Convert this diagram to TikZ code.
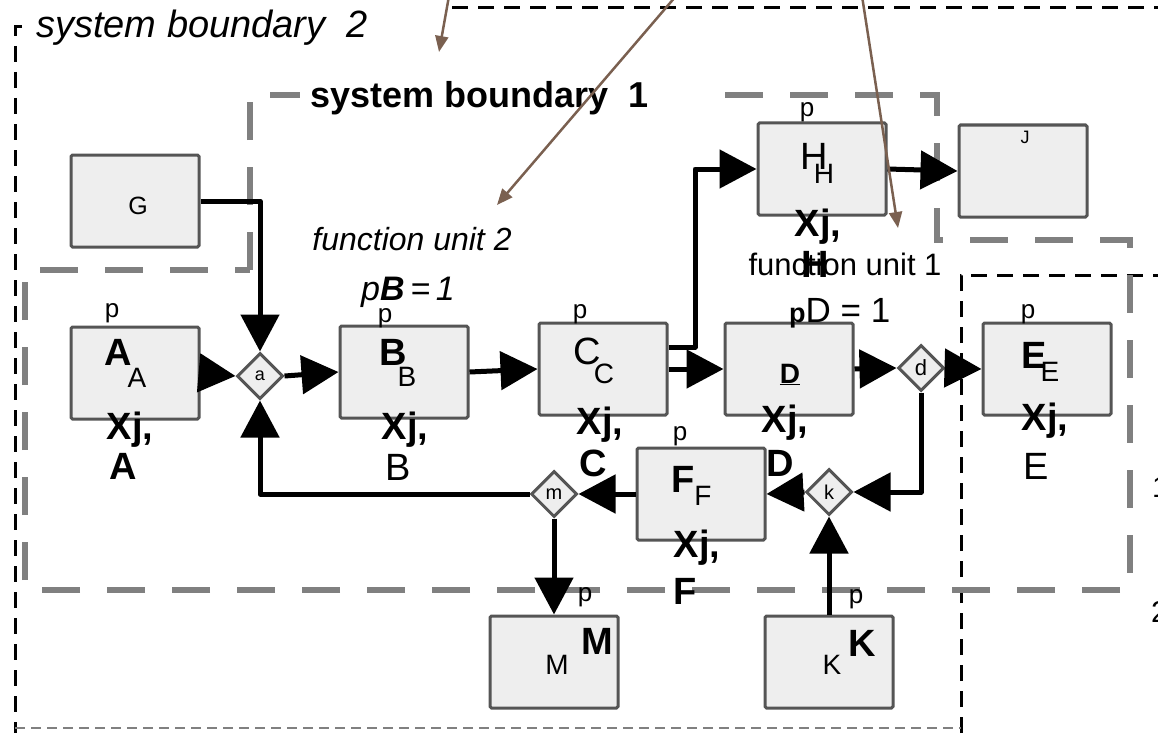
\documentclass[tikz,border=0pt]{standalone}
\usepackage{fontspec}
\setmainfont{Liberation Sans}
\usetikzlibrary{arrows.meta,shapes.geometric}
\definecolor{bxfill}{HTML}{EEEEEE}
\definecolor{bxdraw}{HTML}{555555}
\definecolor{sbgray}{HTML}{808080}
\definecolor{brownarr}{RGB}{122,96,80}
\newcommand\fsz[1]{\fontsize{#1}{#1}\selectfont}
\begin{document}
\begin{tikzpicture}[x=1pt,y=-1pt,
  box/.style={draw=bxdraw,fill=bxfill,line width=3pt,rounded corners=1.5pt,minimum width=128pt,minimum height=92pt,inner sep=0pt},
  dmd/.style={diamond,draw=bxdraw,fill=bxfill,line width=3pt,minimum size=46pt,inner sep=0pt,aspect=1},
  flow/.style={line width=5pt,line join=round,-{Triangle[length=37pt,width=38pt]}},
  note/.style={line width=2.5pt,draw=brownarr,-{Triangle[length=16pt,width=13pt]}},
  sbone/.style={draw=sbgray,line width=6pt,dash pattern=on 38pt off 27pt},
  sbtwo/.style={draw=black,line width=3pt,dash pattern=on 16pt off 10pt},
  sbbot/.style={draw=gray,line width=2pt,dash pattern=on 10pt off 6pt},
  txt/.style={inner sep=0pt,anchor=base},
  big/.style={txt,font=\fsz{38}\bfseries},
  bigr/.style={txt,font=\fsz{38}},
  sub/.style={txt,font=\fsz{28}},
  pp/.style={txt,font=\fsz{26}},
]
\useasboundingbox (0,0) rectangle (1158,733);
\begin{scope}
\clip (0,0) rectangle (1158,733);

% system boundary 2
\draw[sbtwo] (22,27) -- (15,27) -- (15,733);
\draw[sbtwo] (452,8) -- (1158,8);
\draw[sbtwo] (961,733) -- (961,275) -- (1158,275);
\draw[sbbot] (15,728) -- (961,728);
\node[txt,font=\fsz{38}\itshape,anchor=base west] (sb2) at (36,38) {system boundary\ \ 2};

% system boundary 1
\draw[sbone] (250,270) -- (250,95) -- (937,95) -- (937,240) -- (1130,240) -- (1130,590) -- (25,590) -- (25,270) -- cycle;
\node[fill=white,inner xsep=10pt,inner ysep=4pt,anchor=base west,font=\fsz{36}\bfseries] (sb1) at (300,107) {system boundary\ \ 1\phantom{xxx}};

% boxes
\node[box] (G) at (135,201) {};
\node[box] (A) at (135,373) {};
\node[box] (B) at (404,372) {};
\node[box] (C) at (603,369) {};
\node[box] (D) at (789,369) {};
\node[box] (E) at (1047,369) {};
\node[box] (H) at (822,169) {};
\node[box] (J) at (1023,171) {};
\node[box] (F) at (701,494) {};
\node[box] (M) at (554,662) {};
\node[box] (K) at (829,662) {};

% diamonds
\node[dmd,font=\fsz{18}] (a) at (260,376) {a};
\node[dmd,font=\fsz{22}] (d) at (921,368) {d};
\node[dmd,font=\fsz{20}] (k) at (829,492) {k};
\node[dmd,font=\fsz{20}] (m) at (554,494) {m};

% connectors
\draw[flow] (G.east) -| (a.north);
\draw[flow] (A.east) -- (a.west);
\draw[flow] (a.east) -- (B.west);
\draw[flow] (B.east) -- (C.west);
\coordinate (cup) at (695,347);
\draw[flow] ([yshift=22pt]C.east) -- (cup) |- (H.west);
\draw[flow] (C.east) -- (D.west);
\draw[flow] (H.east) -- (J.west);
\draw[flow] (D.east) -- (d.west);
\draw[flow] (d.east) -- (E.west);
\draw[flow] (d.south) |- (k.east);
\draw[flow] (k.west) -- (F.east);
\draw[flow] (K.north) -- (k.south);
\draw[flow] (F.west) -- (m.east);
\draw[flow] (m.west) -| (a.south);
\draw[flow] (m.south) -- (M.north);

% labels G, J
\node[txt,font=\fsz{25}] (tG) at (138,214) {G};
\node[txt,font=\fsz{18}] (tJ) at (1025,143) {J};

% A
\node[pp] (pA) at (112,317) {p};
\node[big] (bA) at (118,365) {A};
\node[sub] (sA) at (137,387) {A};
\node[big] (xA) at (130,439) {Xj,};
\node[big] (lA) at (123,479) {A};
% B
\node[pp] (pB) at (385,322) {p};
\node[big] (bB) at (393,365) {B};
\node[sub] (sB) at (407,386) {B};
\node[big] (xB) at (405,439) {Xj,};
\node[bigr] (lB) at (398,480) {B};
% C
\node[pp] (pC) at (580,318) {p};
\node[bigr] (bC) at (587,364) {C};
\node[sub] (sC) at (604,383) {C};
\node[big] (xC) at (600,434) {Xj,};
\node[big] (lC) at (593,476) {C};
% D
\node[txt,anchor=base west] (pD) at (789,322) {{\fsz{27}\bfseries p}{\fsz{35}D = 1}};
\node[txt,font=\fsz{28}\bfseries] (uD) at (790,383) {\underline{D}};
\node[big] (xD) at (785,432) {Xj,};
\node[big] (lD) at (780,476) {D};
% E
\node[pp] (pE) at (1028,318) {p};
\node[big] (bE) at (1034,368) {E};
\node[sub] (sE) at (1050,381) {E};
\node[big] (xE) at (1045,430) {Xj,};
\node[bigr] (lE) at (1036,479) {E};
% H
\node[pp] (pH) at (807,117) {p};
\node[bigr] (bH) at (814,169) {H};
\node[sub] (sH) at (824,183) {H};
\node[big] (xH) at (818,236) {Xj,};
\node[big] (lH) at (815,277) {H};
\node[txt,font=\fsz{31}] (fu1) at (845,275) {function unit 1};
% F
\node[pp] (pF) at (680,440) {p};
\node[big] (bF) at (683,492) {F};
\node[sub] (sF) at (703,505) {F};
\node[big] (xF) at (697,557) {Xj,};
\node[big] (lF) at (685,604) {F};
% M
\node[pp] (pM) at (585,601) {p};
\node[big] (bM) at (597,654) {M};
\node[sub] (sM) at (557,674) {M};
% K
\node[pp] (pK) at (856,603) {p};
\node[big] (bK) at (862,656) {K};
\node[sub] (sK) at (832,674) {K};

% function unit 2
\node[txt,font=\fsz{32}\itshape] (fu2) at (412,250) {function unit 2};
\node[txt,font=\fsz{34}\itshape] (pBe) at (408,300) {p\textbf{B}\,=\,1};

% cut-off digits at right edge
\node[txt,anchor=base west,font=\fsz{30}] (r1) at (1152,497) {1};
\node[txt,anchor=base west,font=\fsz{30}] (r2) at (1151,622) {2};

% brown annotation arrows
\coordinate (n1s) at (449,-4);
\coordinate (n1e) at (439,52);
\coordinate (n2s) at (676,-4);
\coordinate (n2e) at (497,205);
\coordinate (n3s) at (862,-4);
\coordinate (n3e) at (898,228);
\draw[note] (n1s) -- (n1e);
\draw[note] (n2s) -- (n2e);
\draw[note] (n3s) -- (n3e);
\end{scope}
\end{tikzpicture}
\end{document}
